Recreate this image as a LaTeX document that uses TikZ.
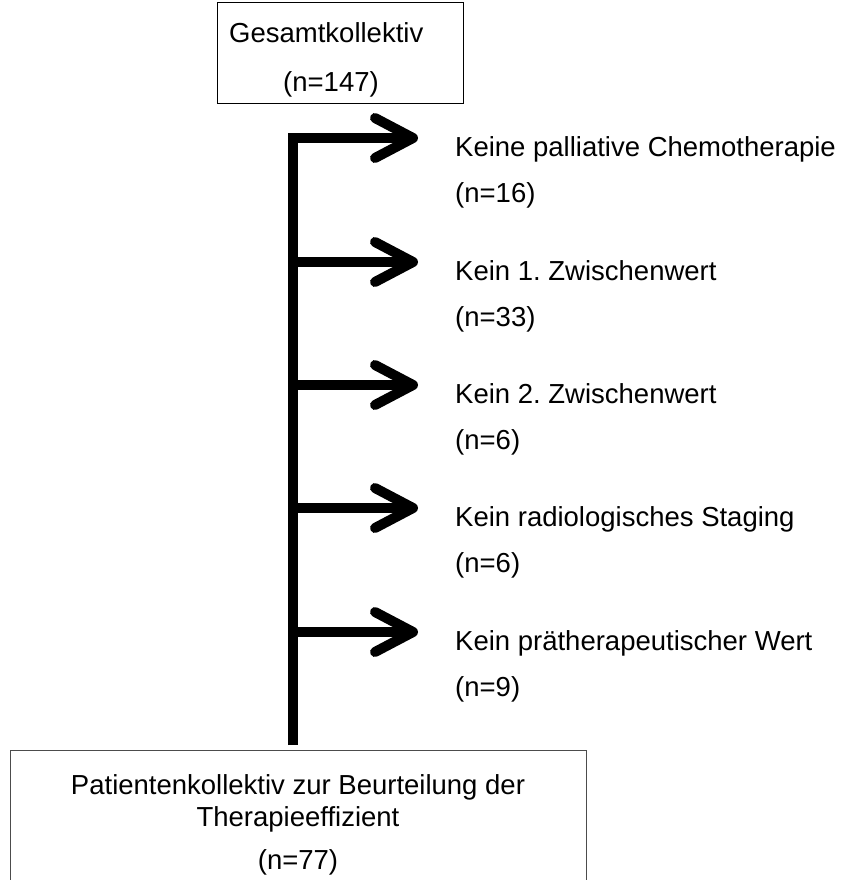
\documentclass[tikz,border=0pt]{standalone}
\usepackage{fontspec}
\setmainfont{Liberation Sans}
\frenchspacing
\begin{document}
\begin{tikzpicture}[x=1pt,y=-1pt,
  every node/.style={inner sep=0pt, font=\fontsize{27.5}{32}\selectfont},
  txt/.style={anchor=base west},
  ctxt/.style={anchor=base},
  flow/.style={line width=9.5pt, line join=miter},
  head/.style={line width=10pt, line cap=round, line join=round},
  box/.style={draw, line width=1.3pt}]
\clip (0,0) rectangle (842,880);
\fill[white] (0,0) rectangle (842,880);
% top box
\node[box, draw=black, anchor=north west, minimum width=246pt, minimum height=101pt] (top) at (217,2) {};
\node[txt] (t1) at (229,43) {Gesamtkollektiv};
\node[txt] (t2) at (283,92) {(n=147)};
% bottom box
\node[box, draw=black!70, anchor=north west, minimum width=576pt, minimum height=140pt] (bot) at (10,750) {};
\node[ctxt] (b1) at (298,794) {Patientenkollektiv zur Beurteilung der};
\node[ctxt] (b2) at (298,826) {Therapieeffizient};
\node[ctxt] (b3) at (298,869) {(n=77)};
% spine
\coordinate (vend) at (293,745);
\foreach \k/\y in {1/138,2/262,3/385,4/508,5/632}{
  \coordinate (s\k) at (293,\y);
  \coordinate (e\k) at (405,\y);
  \coordinate (tip\k) at (413,\y);
}
\draw[flow] (vend) -- (s1) -- (e1);
\foreach \k in {2,...,5}{ \draw[flow] (s\k) -- (e\k); }
\foreach \k in {1,...,5}{
  \draw[head] ([shift={(-38,-20)}]tip\k) -- (tip\k) -- ([shift={(-38,20)}]tip\k);
}
% labels
\node[txt] (l1) at (455,156) {Keine palliative Chemotherapie};
\node[txt] (n1) at (455,202) {(n=16)};
\node[txt] (l2) at (455,280) {Kein 1. Zwischenwert};
\node[txt] (n2) at (455,326) {(n=33)};
\node[txt] (l3) at (455,403) {Kein 2. Zwischenwert};
\node[txt] (n3) at (455,449) {(n=6)};
\node[txt] (l4) at (455,526) {Kein radiologisches Staging};
\node[txt] (n4) at (455,572) {(n=6)};
\node[txt] (l5) at (455,650) {Kein prätherapeutischer Wert};
\node[txt] (n5) at (455,696) {(n=9)};
\end{tikzpicture}
\end{document}
